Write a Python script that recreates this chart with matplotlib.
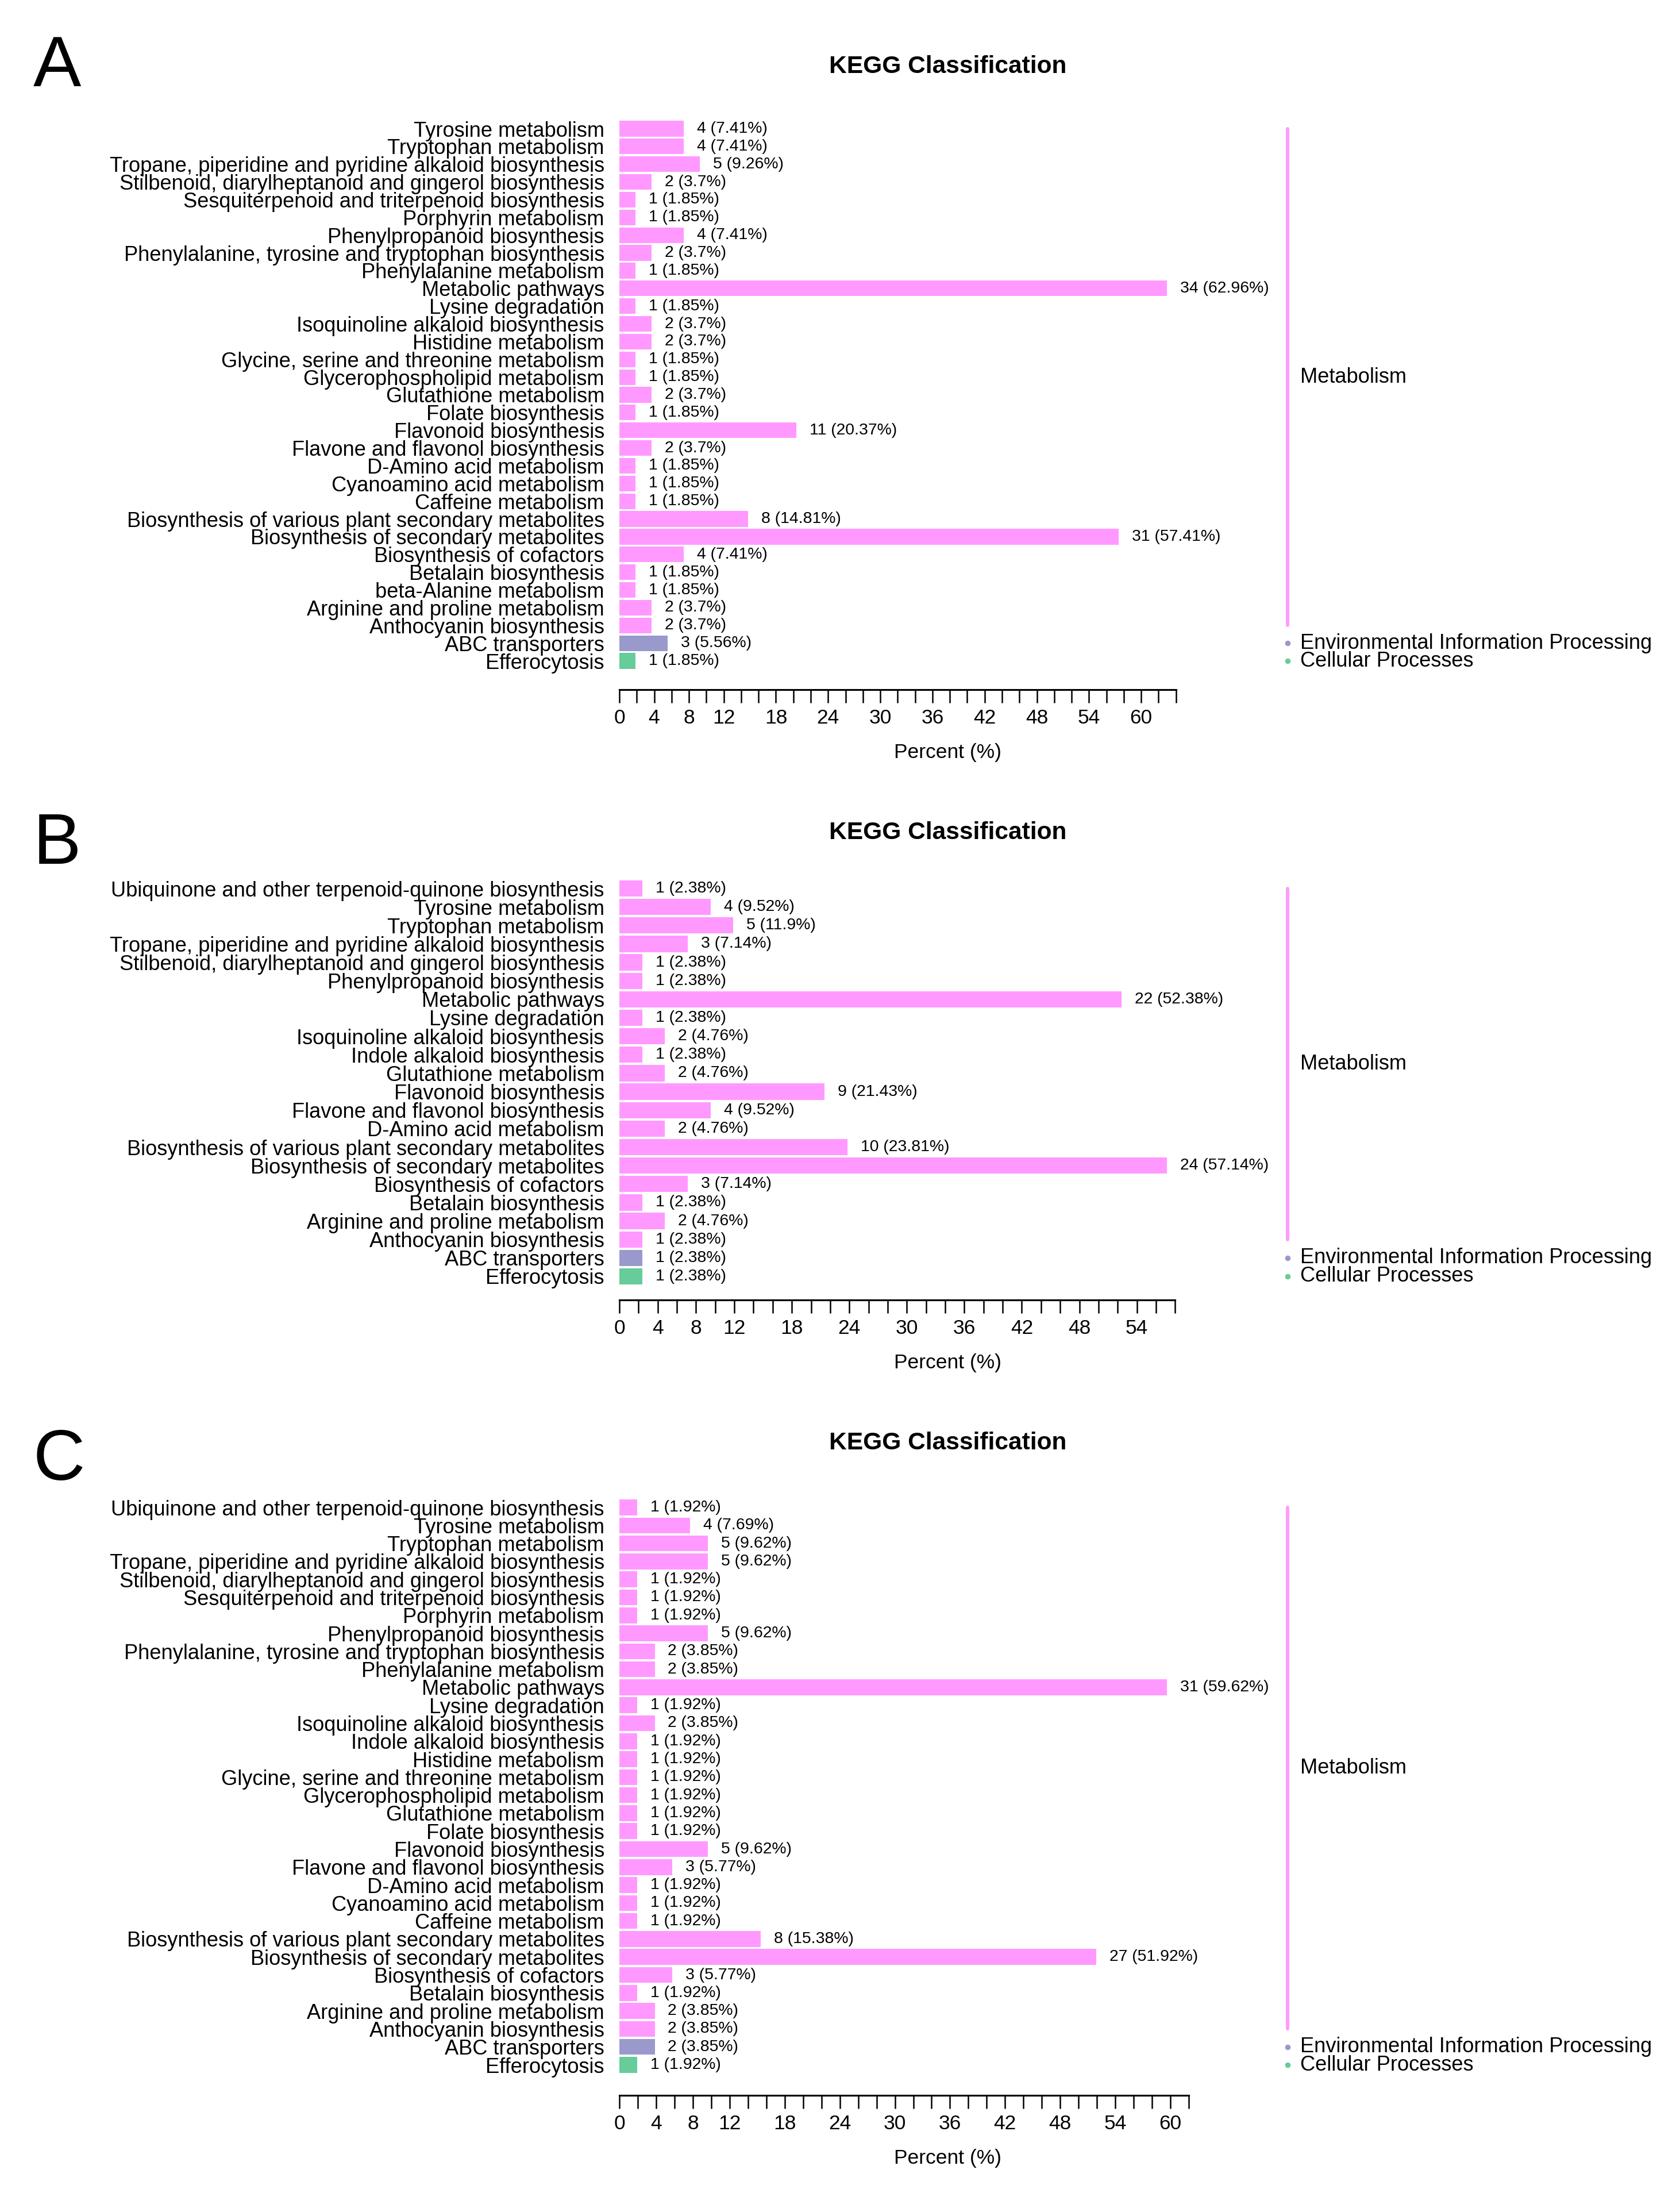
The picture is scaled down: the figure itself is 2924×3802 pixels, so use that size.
import matplotlib
matplotlib.use('Agg')
import matplotlib.pyplot as plt
from matplotlib.transforms import blended_transform_factory

plt.rcParams['font.family'] = ['Liberation Sans', 'DejaVu Sans']

# ---------------- data ----------------
a_terms = ["Tyrosine metabolism", "Tryptophan metabolism",
           "Tropane, piperidine and pyridine alkaloid biosynthesis",
           "Stilbenoid, diarylheptanoid and gingerol biosynthesis",
           "Sesquiterpenoid and triterpenoid biosynthesis", "Porphyrin metabolism",
           "Phenylpropanoid biosynthesis", "Phenylalanine, tyrosine and tryptophan biosynthesis",
           "Phenylalanine metabolism", "Metabolic pathways", "Lysine degradation",
           "Isoquinoline alkaloid biosynthesis", "Histidine metabolism",
           "Glycine, serine and threonine metabolism", "Glycerophospholipid metabolism",
           "Glutathione metabolism", "Folate biosynthesis", "Flavonoid biosynthesis",
           "Flavone and flavonol biosynthesis", "D-Amino acid metabolism",
           "Cyanoamino acid metabolism", "Caffeine metabolism",
           "Biosynthesis of various plant secondary metabolites",
           "Biosynthesis of secondary metabolites", "Biosynthesis of cofactors",
           "Betalain biosynthesis", "beta-Alanine metabolism",
           "Arginine and proline metabolism", "Anthocyanin biosynthesis",
           "ABC transporters", "Efferocytosis"]
a_counts = [4, 4, 5, 2, 1, 1, 4, 2, 1, 34, 1, 2, 2, 1, 1, 2, 1, 11, 2, 1, 1, 1, 8, 31, 4, 1, 1, 2, 2, 3, 1]
a_pcts = [7.41, 7.41, 9.26, 3.7, 1.85, 1.85, 7.41, 3.7, 1.85, 62.96, 1.85, 3.7, 3.7, 1.85, 1.85,
          3.7, 1.85, 20.37, 3.7, 1.85, 1.85, 1.85, 14.81, 57.41, 7.41, 1.85, 1.85, 3.7, 3.7, 5.56, 1.85]
a_classes = ["Metabolism"] * 29 + ["Environmental Information Processing", "Cellular Processes"]

b_terms = ["Ubiquinone and other terpenoid-quinone biosynthesis", "Tyrosine metabolism",
           "Tryptophan metabolism", "Tropane, piperidine and pyridine alkaloid biosynthesis",
           "Stilbenoid, diarylheptanoid and gingerol biosynthesis", "Phenylpropanoid biosynthesis",
           "Metabolic pathways", "Lysine degradation", "Isoquinoline alkaloid biosynthesis",
           "Indole alkaloid biosynthesis", "Glutathione metabolism", "Flavonoid biosynthesis",
           "Flavone and flavonol biosynthesis", "D-Amino acid metabolism",
           "Biosynthesis of various plant secondary metabolites",
           "Biosynthesis of secondary metabolites", "Biosynthesis of cofactors",
           "Betalain biosynthesis", "Arginine and proline metabolism",
           "Anthocyanin biosynthesis", "ABC transporters", "Efferocytosis"]
b_counts = [1, 4, 5, 3, 1, 1, 22, 1, 2, 1, 2, 9, 4, 2, 10, 24, 3, 1, 2, 1, 1, 1]
b_pcts = [2.38, 9.52, 11.9, 7.14, 2.38, 2.38, 52.38, 2.38, 4.76, 2.38, 4.76, 21.43, 9.52, 4.76,
          23.81, 57.14, 7.14, 2.38, 4.76, 2.38, 2.38, 2.38]
b_classes = ["Metabolism"] * 20 + ["Environmental Information Processing", "Cellular Processes"]

c_terms = ["Ubiquinone and other terpenoid-quinone biosynthesis", "Tyrosine metabolism",
           "Tryptophan metabolism", "Tropane, piperidine and pyridine alkaloid biosynthesis",
           "Stilbenoid, diarylheptanoid and gingerol biosynthesis",
           "Sesquiterpenoid and triterpenoid biosynthesis", "Porphyrin metabolism",
           "Phenylpropanoid biosynthesis", "Phenylalanine, tyrosine and tryptophan biosynthesis",
           "Phenylalanine metabolism", "Metabolic pathways", "Lysine degradation",
           "Isoquinoline alkaloid biosynthesis", "Indole alkaloid biosynthesis",
           "Histidine metabolism", "Glycine, serine and threonine metabolism",
           "Glycerophospholipid metabolism", "Glutathione metabolism", "Folate biosynthesis",
           "Flavonoid biosynthesis", "Flavone and flavonol biosynthesis",
           "D-Amino acid metabolism", "Cyanoamino acid metabolism", "Caffeine metabolism",
           "Biosynthesis of various plant secondary metabolites",
           "Biosynthesis of secondary metabolites", "Biosynthesis of cofactors",
           "Betalain biosynthesis", "Arginine and proline metabolism",
           "Anthocyanin biosynthesis", "ABC transporters", "Efferocytosis"]
c_counts = [1, 4, 5, 5, 1, 1, 1, 5, 2, 2, 31, 1, 2, 1, 1, 1, 1, 1, 1, 5, 3, 1, 1, 1, 8, 27, 3, 1, 2, 2, 2, 1]
c_pcts = [1.92, 7.69, 9.62, 9.62, 1.92, 1.92, 1.92, 9.62, 3.85, 3.85, 59.62, 1.92, 3.85, 1.92,
          1.92, 1.92, 1.92, 1.92, 1.92, 9.62, 5.77, 1.92, 1.92, 1.92, 15.38, 51.92, 5.77, 1.92,
          3.85, 3.85, 3.85, 1.92]
c_classes = ["Metabolism"] * 30 + ["Environmental Information Processing", "Cellular Processes"]

x_tick_labels = [0, 4, 8, 12, 18, 24, 30, 36, 42, 48, 54, 60]
axis_ends = {"A": 64, "B": 58, "C": 62}

class_colors = {"Metabolism": "#FF99FF",
                "Environmental Information Processing": "#9999CC",
                "Cellular Processes": "#66CC99"}

# ---------------- layout (pixels) ----------------
W, H = 2924, 3802
DPI = 300
fig = plt.figure(figsize=(W / DPI, H / DPI), dpi=DPI)

def fx(px):
    return px / W

def fy(py):
    return 1 - py / H

panels = [
    dict(letter="A", terms=a_terms, counts=a_counts, pcts=a_pcts, classes=a_classes,
         letter_base=150, title_base=127, first=224, last=1150, axis=1200),
    dict(letter="B", terms=b_terms, counts=b_counts, pcts=b_pcts, classes=b_classes,
         letter_base=1503, title_base=1460, first=1546, last=2221, axis=2262),
    dict(letter="C", terms=c_terms, counts=c_counts, pcts=c_pcts, classes=c_classes,
         letter_base=2575, title_base=2522, first=2623, last=3593, axis=3646),
]

X0 = 1078          # x pixel of value 0
XMAXBAR = 2031     # x pixel where the largest bar ends
BRACKET_X = 2241
GROUP_TEXT_X = 2263
CENTER_X = 1650

for p in panels:
    n = len(p["terms"])
    xend = axis_ends[p["letter"]]
    vmax = max(p["pcts"])
    width_px = (XMAXBAR - X0) * xend / vmax
    s = (p["last"] - p["first"]) / (n - 1)
    top_px = p["first"] - 0.5 * s
    bottom_px = p["axis"]
    ax = fig.add_axes([fx(X0), fy(bottom_px), width_px / W, (bottom_px - top_px) / H])
    ybottom = (n - 1) + (p["axis"] - p["last"]) / s
    ax.set_ylim(ybottom, -0.5)
    ax.set_xlim(0, xend)

    y = list(range(n))
    colors = [class_colors[c] for c in p["classes"]]
    ax.barh(y, p["pcts"], height=0.88, color=colors, linewidth=0)
    for i, (c, v) in enumerate(zip(p["counts"], p["pcts"])):
        ax.annotate(f"{c} ({v:g}%)", (v, i), xytext=(5.5, 0), textcoords="offset points",
                    va="center", ha="left", fontsize=6.8, annotation_clip=False)

    ax.set_yticks(y)
    ax.set_yticklabels(p["terms"], fontsize=8.7)
    ax.tick_params(axis="y", length=0, pad=6.3)

    ax.set_xticks(list(range(0, xend + 1, 2)))
    ax.set_xticklabels([str(t) if t in x_tick_labels else "" for t in range(0, xend + 1, 2)],
                       fontsize=8.5)
    ax.tick_params(axis="x", direction="out", length=5.5, width=0.6, pad=2.5, color="black")
    for sp in ["top", "right", "left"]:
        ax.spines[sp].set_visible(False)
    ax.spines["bottom"].set_linewidth(0.75)
    ax.patch.set_alpha(0)

    # class brackets and labels
    trans = blended_transform_factory(fig.transFigure, ax.transData)
    groups = []
    for i, c in enumerate(p["classes"]):
        if groups and groups[-1][0] == c:
            groups[-1][2] = i
        else:
            groups.append([c, i, i])
    for c, i0, i1 in groups:
        col = class_colors[c]
        if i1 > i0:
            ax.plot([fx(BRACKET_X)] * 2, [i0, i1], transform=trans, color=col, lw=1.4,
                    solid_capstyle="round", clip_on=False)
        else:
            ax.plot([fx(BRACKET_X)], [i0], transform=trans, marker="o", ms=1.3, color=col,
                    clip_on=False, linestyle="none")
        ax.text(fx(GROUP_TEXT_X), (i0 + i1) / 2, c, transform=trans, va="center", ha="left",
                fontsize=8.7)

    # title, x label, panel letter
    fig.text(fx(CENTER_X), fy(p["title_base"]), "KEGG Classification", ha="center",
             va="baseline", fontsize=10.2, fontweight="bold")
    fig.text(fx(CENTER_X), fy(p["axis"] + 110), "Percent (%)", ha="center", va="center",
             fontsize=8.5)
    fig.text(fx(58), fy(p["letter_base"]), p["letter"], ha="left", va="baseline", fontsize=30)

fig.savefig("out.png", dpi=DPI, facecolor="white")
